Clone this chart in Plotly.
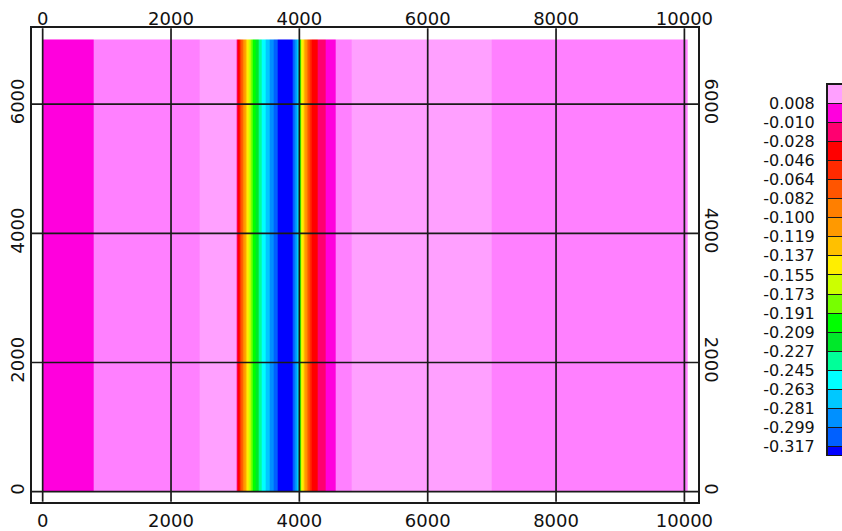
import numpy as np
import plotly.graph_objects as go

# ---------------- data ----------------
# profile cell edges along x (map units) and the value in each cell (constant along y)
x_edges = [0, 790, 2450, 3025, 3045, 3065, 3090, 3115, 3135, 3160, 3185, 3215,
           3245, 3275, 3325, 3370, 3420, 3480, 3540, 3605, 3665, 3900, 3930, 3965,
           3995, 4010, 4025, 4040, 4065, 4090, 4110, 4135, 4165, 4195, 4290, 4415,
           4570, 4820, 7000, 10050]
y_edges = [0, 7000]
profile_values = [-0.001, 0.014, 0.021, -0.019, -0.037, -0.055, -0.073, -0.091,
                  -0.110, -0.128, -0.146, -0.164, -0.182, -0.200, -0.218, -0.236,
                  -0.254, -0.272, -0.290, -0.308, -0.325, -0.308, -0.290, -0.272,
                  -0.254, -0.200, -0.164, -0.146, -0.128, -0.110, -0.091, -0.073,
                  -0.055, -0.037, -0.019, -0.001, 0.014, 0.021, 0.014]

# contour levels shown in the colour legend (top to bottom)
levels = [0.008, -0.010, -0.028, -0.046, -0.064, -0.082, -0.100, -0.119, -0.137,
          -0.155, -0.173, -0.191, -0.209, -0.227, -0.245, -0.263, -0.281, -0.299, -0.317]
level_labels = ["0.008", "-0.010", "-0.028", "-0.046", "-0.064", "-0.082", "-0.100",
                "-0.119", "-0.137", "-0.155", "-0.173", "-0.191", "-0.209", "-0.227",
                "-0.245", "-0.263", "-0.281", "-0.299", "-0.317"]
pink_split = 0.017

# class colours, lowest class first
class_colors = ["#0000FF", "#0060FF", "#0090FF", "#00C8FF", "#00FFFF", "#00FF99",
                "#00E82A", "#00FF00", "#77FF00", "#CCFF00", "#FFEE00", "#FFC000",
                "#FF9900", "#FF7F00", "#FF5500", "#FF2A00", "#FF0000", "#FF0070",
                "#FF00DD", "#FF80FF", "#FFA0FF"]

x_ticks = [0, 2000, 4000, 6000, 8000, 10000]
x_tick_labels = ["0", "2000", "4000", "6000", "8000", "10000"]
y_ticks = [0, 2000, 4000, 6000]
y_tick_labels = ["0", "2000", "4000", "6000"]

# ---------------- build ----------------
bounds = sorted(levels) + [pink_split]
classes = np.digitize(profile_values, bounds)
n_cls = len(class_colors)
colorscale = []
for i, c in enumerate(class_colors):
    colorscale.append([i / n_cls, c])
    colorscale.append([(i + 1) / n_cls, c])

W, H = 842, 531
FONT = "DejaVu Sans"
LINE = "#1a1a1a"

fig = go.Figure()
fig.add_trace(go.Heatmap(
    x=x_edges, y=y_edges, z=[classes.tolist()],
    customdata=[profile_values],
    hovertemplate="x=%{x}<br>value=%{customdata}<extra></extra>",
    colorscale=colorscale, zmin=-0.5, zmax=n_cls - 0.5, showscale=False,
))

# invisible anchors so the top and right axes are drawn
fig.add_trace(go.Scatter(x=[x_ticks[0]], y=[y_ticks[0]], xaxis="x2", yaxis="y",
                         mode="markers", marker=dict(opacity=0), hoverinfo="skip",
                         showlegend=False))
fig.add_trace(go.Scatter(x=[x_ticks[0]], y=[y_ticks[0]], xaxis="x", yaxis="y2",
                         mode="markers", marker=dict(opacity=0), hoverinfo="skip",
                         showlegend=False))

# legend boxes: classes below the top level, then the box above 0.008
legend_colors = class_colors[:len(levels)] + [class_colors[-1]]
for c in legend_colors:
    fig.add_trace(go.Bar(
        x=[0], y=[1], width=1, marker=dict(color=c, line=dict(color=LINE, width=1)),
        xaxis="x3", yaxis="y3", showlegend=False, hoverinfo="skip",
    ))

# grid lines drawn above the colour fill
shapes = []
for t in x_ticks:
    shapes.append(dict(type="line", xref="x", yref="y domain", x0=t, x1=t, y0=0, y1=1,
                       line=dict(color=LINE, width=1.7), layer="above"))
for t in y_ticks:
    shapes.append(dict(type="line", xref="x domain", yref="y", x0=0, x1=1, y0=t, y1=t,
                       line=dict(color=LINE, width=1.7), layer="above"))

xr = [-171, 10212]
yr = [-155, 7173]
xdom = [31.7 / W, 698 / W]
ydom = [(H - 501.7) / H, (H - 28.3) / H]
tickfont = dict(family=FONT, size=18, color="#111")

fig.update_layout(
    width=W, height=H, margin=dict(l=0, r=0, t=0, b=0, pad=0),
    paper_bgcolor="white", plot_bgcolor="white", barmode="stack",
    showlegend=False, shapes=shapes,
    xaxis=dict(domain=xdom, range=xr, tickvals=x_ticks, ticktext=x_tick_labels,
               showgrid=False, zeroline=False, showline=True,
               linecolor=LINE, linewidth=1.7, mirror=True, ticks="outside",
               ticklen=2, tickcolor="rgba(0,0,0,0)", tickfont=tickfont,
               automargin=False, anchor="y"),
    xaxis2=dict(overlaying="x", side="top", range=xr, tickvals=x_ticks,
                ticktext=x_tick_labels, showgrid=False, zeroline=False,
                showline=False, ticks="", ticklabelstandoff=-1, tickfont=tickfont,
                automargin=False, anchor="y"),
    yaxis=dict(domain=ydom, range=yr, tickvals=y_ticks, ticktext=y_tick_labels,
               tickangle=-90, showgrid=False, zeroline=False, showline=True,
               linecolor=LINE, linewidth=1.7, mirror=True, ticks="",
               ticklabelstandoff=-1, tickfont=tickfont,
               automargin=False, anchor="x"),
    yaxis2=dict(overlaying="y", side="right", range=yr, tickvals=y_ticks,
                ticktext=y_tick_labels, tickangle=90,
                showgrid=False, zeroline=False, showline=False, ticks="",
                ticklabelstandoff=2, tickfont=tickfont,
                automargin=False, anchor="x"),
    xaxis3=dict(domain=[827 / W, 1.0], range=[-0.5, 0.35], anchor="y3",
                showticklabels=False, showgrid=False, zeroline=False, showline=True,
                mirror=True, linecolor=LINE, linewidth=1, automargin=False),
    yaxis3=dict(domain=[(H - 455) / H, (H - 84) / H], range=[0.57, len(levels) + 1],
                anchor="x3", tickvals=list(range(1, len(levels) + 1)),
                ticktext=level_labels[::-1], showgrid=False, zeroline=False,
                showline=True, linecolor=LINE, linewidth=1, ticks="outside",
                ticklen=8, tickcolor="rgba(0,0,0,0)",
                tickfont=dict(family=FONT, size=16, color="#111"), automargin=False),
)

fig.write_html(
    "out.html",
    config={"displayModeBar": False},
    post_script="document.body.style.margin='0';document.body.style.overflow='hidden';",
)
